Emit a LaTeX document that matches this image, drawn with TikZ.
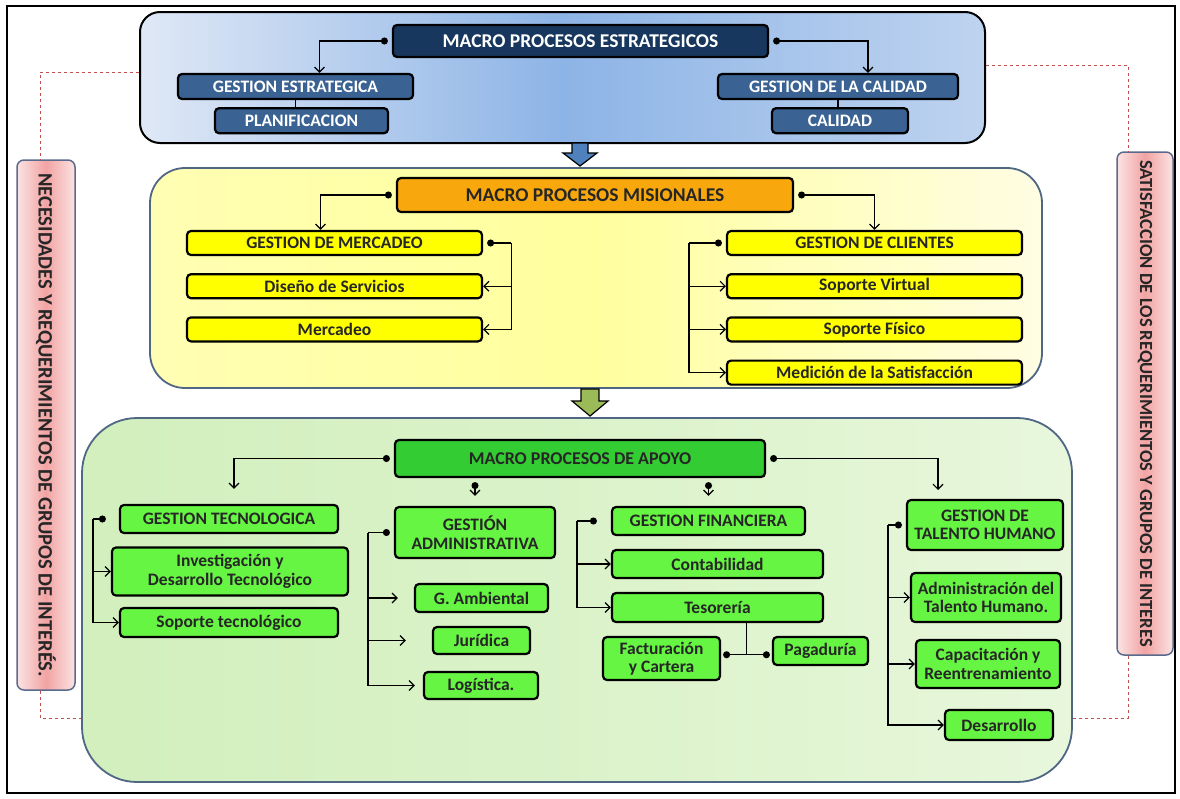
\documentclass[tikz,border=0pt]{standalone}
\usepackage{fontspec}
\setmainfont{Carlito}
\usetikzlibrary{arrows.meta}
\usetikzlibrary{positioning}
\usetikzlibrary{calc}

\definecolor{navyfill}{HTML}{17375E}
\definecolor{steelfill}{HTML}{3A6394}
\definecolor{bluelight}{HTML}{DFE8F6}
\definecolor{bluemid}{HTML}{8DB4E6}
\definecolor{yellowlight}{HTML}{FFFDE3}
\definecolor{yellowmid}{HTML}{FFFF9E}
\definecolor{greenlight}{HTML}{E8F7DC}
\definecolor{greenmid}{HTML}{D2EFBD}
\definecolor{orangefill}{HTML}{F8A80C}
\definecolor{yellowfill}{HTML}{FFFF00}
\definecolor{apoyofill}{HTML}{33CC33}
\definecolor{limefill}{HTML}{66F542}
\definecolor{pinklight}{HTML}{FBE3E3}
\definecolor{pinkmid}{HTML}{F2A3A3}
\definecolor{slateline}{HTML}{4F6684}
\definecolor{barline}{HTML}{5A6A8C}
\definecolor{dashred}{HTML}{C0504D}
\definecolor{arrowblue}{HTML}{4F81BD}
\definecolor{arrowgreen}{HTML}{9BBB59}

\begin{document}
\begin{tikzpicture}[x=1pt,y=-1pt,
    box/.style={draw=black,line width=2.2pt,rounded corners=4pt,align=center,inner sep=1pt,
                text=black!85,font=\bfseries\fontsize{17.5}{18.5}\selectfont},
    head node/.style={box,font=\bfseries\fontsize{19.5}{21}\selectfont},
    navy node/.style={head node,fill=navyfill,text=white},
    steel node/.style={box,fill=steelfill,text=white},
    orange node/.style={head node,fill=orangefill},
    yellow node/.style={box,fill=yellowfill},
    apoyo node/.style={head node,fill=apoyofill,font=\bfseries\fontsize{18}{20}\selectfont},
    lime node/.style={box,fill=limefill},
    panel/.style={rectangle,inner sep=0pt},
    side bar/.style={draw=barline,line width=1.5pt,rounded corners=7pt,left color=pinklight,
                     right color=pinklight,middle color=pinkmid,rotate=-90,text=black!85,
                     font=\bfseries\fontsize{18.5}{20}\selectfont},
    link/.style={line width=1.2pt},
    arrow link/.style={link,-{Straight Barb[length=5pt,width=10pt]}},
    dot link/.style={link,{Circle[length=7pt]}-{Straight Barb[length=5pt,width=10pt]},shorten <=4pt},
    dot line/.style={link,{Circle[length=7pt]}-,shorten <=4pt},
    band/.style={draw=dashred,line width=0.8pt,dashed}]

  \useasboundingbox (0,0) rectangle (1180,798);
  \draw[line width=1.2pt] (7,6) rectangle (1175,793);

  \node[panel,draw=black,line width=2pt,rounded corners=20pt,left color=bluelight,
        right color=bluelight!60!bluemid,middle color=bluemid,
        minimum width=845pt,minimum height=131pt] (strat) at (562.5,77.5) {};
  \node[panel,draw=slateline,line width=1.8pt,rounded corners=35pt,left color=yellowmid!70!yellowlight,
        right color=yellowlight,middle color=yellowmid,
        minimum width=892pt,minimum height=220pt] (mision) at (596,278) {};
  \node[panel,draw=slateline,line width=1.8pt,rounded corners=55pt,left color=greenmid,
        right color=greenlight,middle color=greenmid!60!greenlight,
        minimum width=990pt,minimum height=364pt] (apoyo) at (577,600) {};

  \node[side bar,minimum width=530pt,minimum height=58pt,font=\bfseries\fontsize{20.5}{22}\selectfont] (lbar) at (46,425)
    {NECESIDADES Y REQUERIMIENTOS DE GRUPOS DE INTERÉS.};
  \node[side bar,minimum width=503pt,minimum height=56pt] (rbar) at (1145,403.5)
    {SATISFACCION DE LOS REQUERIMIENTOS Y GRUPOS DE INTERES};

  \draw[band] (strat.west |- 0,72) -| ($(lbar.west)+(-6,0)$);
  \draw[band] ($(lbar.east)+(-6,0)$) |- (apoyo.west |- 0,718);
  \draw[band] (strat.east |- 0,65) -| ($(rbar.west)+(-17,0)$);
  \draw[band] ($(rbar.east)+(-17,0)$) |- (apoyo.east |- 0,718);

  \draw[line width=1.2pt,fill=arrowblue] (572,143) -- (588,143) -- (588,153) -- (597,153)
    -- (580,166) -- (563,153) -- (572,153) -- cycle;
  \draw[line width=1.2pt,fill=arrowgreen] (581,389) -- (599,389) -- (599,401) -- (608,401)
    -- (590,416) -- (572,401) -- (581,401) -- cycle;

  \node[navy node,minimum width=375pt,minimum height=32pt] (mpe) at (580.5,41) {MACRO PROCESOS ESTRATEGICOS};
  \node[steel node,minimum width=235pt,minimum height=25pt] (ge) at (295.5,86.5) {GESTION ESTRATEGICA};
  \node[steel node,minimum width=173pt,minimum height=25pt,below=7pt of ge,xshift=6pt] (plan) {PLANIFICACION};
  \node[steel node,minimum width=240pt,minimum height=25pt] (gdlc) at (838,86.5) {GESTION DE LA CALIDAD};
  \node[steel node,minimum width=136pt,minimum height=25pt,below=7pt of gdlc,xshift=2pt] (cal) {CALIDAD};

  \node[orange node,minimum width=396pt,minimum height=34pt] (mpm) at (595,195) {MACRO PROCESOS MISIONALES};
  \node[yellow node,minimum width=295pt,minimum height=24pt] (gdm) at (334.5,243) {GESTION DE MERCADEO};
  \node[yellow node,minimum width=295pt,minimum height=24pt,below=17pt of gdm] (dis) {Diseño de Servicios};
  \node[yellow node,minimum width=295pt,minimum height=24pt,below=17pt of dis] (mer) {Mercadeo};
  \node[yellow node,minimum width=295pt,minimum height=24pt] (gdc) at (874.5,243) {GESTION DE CLIENTES};
  \node[yellow node,minimum width=295pt,minimum height=24pt,below=17pt of gdc] (sv) {Soporte Virtual};
  \node[yellow node,minimum width=295pt,minimum height=24pt,below=17pt of sv] (sf) {Soporte Físico};
  \node[yellow node,minimum width=295pt,minimum height=24pt,below=17pt of sf] (med) {Medición de la Satisfacción};

  \node[apoyo node,minimum width=370pt,minimum height=37pt] (mpa) at (580,458.5) {MACRO PROCESOS DE APOYO};
  \node[lime node,minimum width=218pt,minimum height=28pt] (gt) at (229,519) {GESTION TECNOLOGICA};
  \node[lime node,minimum width=236pt,minimum height=48pt] (inv) at (230,571.5) {Investigación y\\Desarrollo Tecnológico};
  \node[lime node,minimum width=218pt,minimum height=29pt] (sop) at (229,622.5) {Soporte tecnológico};
  \node[lime node,minimum width=160pt,minimum height=51pt] (ga) at (475,532.5) {GESTIÓN\\ADMINISTRATIVA};
  \node[lime node,minimum width=133pt,minimum height=28pt] (gamb) at (481.5,598) {G. Ambiental};
  \node[lime node,minimum width=97pt,minimum height=27pt] (jur) at (481.5,640.5) {Jurídica};
  \node[lime node,minimum width=114pt,minimum height=27pt] (log) at (481,685.5) {Logística.};
  \node[lime node,minimum width=193pt,minimum height=28pt] (gf) at (708.5,521) {GESTION FINANCIERA};
  \node[lime node,minimum width=211pt,minimum height=28pt] (cont) at (717.5,564) {Contabilidad};
  \node[lime node,minimum width=211pt,minimum height=29pt] (tes) at (717.5,607.5) {Tesorería};
  \node[lime node,minimum width=117pt,minimum height=43pt] (fac) at (661.5,658.5) {Facturación\\y Cartera};
  \node[lime node,minimum width=95pt,minimum height=28pt] (pag) at (820.5,651) {Pagaduría};
  \node[lime node,minimum width=156pt,minimum height=50pt] (gth) at (985,525) {GESTION DE\\TALENTO HUMANO};
  \node[lime node,minimum width=150pt,minimum height=49pt] (adm) at (986,597.5) {Administración del\\Talento Humano.};
  \node[lime node,minimum width=144pt,minimum height=48pt] (cap) at (988,664) {Capacitación y\\Reentrenamiento};
  \node[lime node,minimum width=108pt,minimum height=30pt] (des) at (999,725) {Desarrollo};

  \draw[dot link] (mpe.west) -| ($(ge.north)+(24,0)$);
  \draw[dot link] (mpe.east) -| ($(gdlc.north)+(30,0)$);
  \path (ge.south) edge[link] (ge.south |- plan.north)
        (gdlc.south) edge[link] (gdlc.south |- cal.north);

  \draw[dot link] (mpm.west) -| ($(gdm.north)+(-14,0)$);
  \draw[dot link] (mpm.east) -| (gdc.north);
  \draw[dot line] (gdm.east) -- ++(28,0) coordinate (gmk);
  \draw[arrow link] (gmk) |- (dis.east);
  \draw[arrow link] (gmk) |- (mer.east);
  \draw[dot line] (gdc.west) -- ++(-37,0) coordinate (gck);
  \draw[arrow link] (gck) |- (sv.west);
  \draw[arrow link] (gck) |- (sf.west);
  \draw[arrow link] (gck) |- (med.west);

  \coordinate (thin) at (938,490);
  \draw[dot link,shorten >=15pt] (mpa.west) -| ($(gt.north)+(5,0)$);
  \draw[dot link] (mpa.east) -| (thin);
  \draw[dot link,shorten >=10pt] (mpa.south -| ga.north) -- (ga.north);
  \draw[dot link,shorten >=10pt] (mpa.south -| gf.north) -- (gf.north);

  \draw[dot line,shorten <=13pt] (gt.west) -- ++(-26,0) coordinate (gtk);
  \draw[arrow link] (gtk) |- (inv.west);
  \draw[arrow link] (gtk) |- (sop.west);

  \draw[dot line] (ga.west) -- ++(-26,0) coordinate (gak);
  \draw[arrow link,shorten >=16pt] (gak) |- (gamb.west);
  \draw[arrow link,shorten >=26pt] (gak) |- (jur.west);
  \draw[arrow link,shorten >=8pt] (gak) |- (log.west);

  \draw[dot line,shorten <=14pt] (gf.west) -- ++(-34,0) coordinate (gfk);
  \draw[arrow link] (gfk) |- (cont.west);
  \draw[arrow link] (gfk) |- (tes.west);

  \coordinate (tj) at ($(fac.east)!0.5!(pag.west)$);
  \draw[link] (tes.south -| tj) -- (tj);
  \draw[link,{Circle[length=7pt]}-{Circle[length=7pt]},shorten <=2pt,shorten >=2pt] (fac.east |- tj) -- (pag.west |- tj);

  \draw[dot line] (gth.west) -- ++(-18,0) coordinate (thk);
  \draw[arrow link] (thk) |- (adm.west);
  \draw[arrow link] (thk) |- (cap.west);
  \draw[arrow link] (thk) |- (des.west);
\end{tikzpicture}
\end{document}
